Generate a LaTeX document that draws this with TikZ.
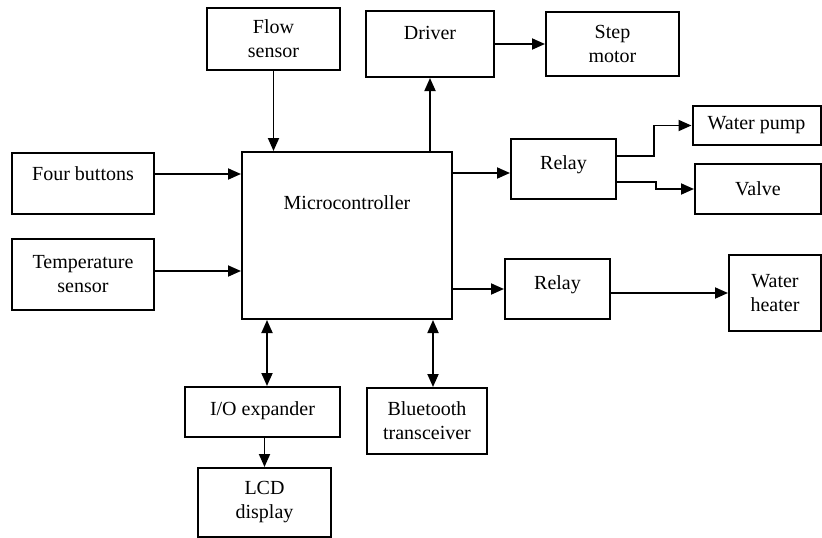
\documentclass[tikz,border=0pt]{standalone}
\usepackage{fontspec}
\setmainfont{Liberation Serif}
\usetikzlibrary{arrows.meta}

\begin{document}
\begin{tikzpicture}[x=1pt,y=-1pt,>={Triangle[length=13pt,width=11pt]},lift/.style={text height=14pt,text depth=#1}]
\tikzstyle{blk}=[draw,line width=2pt,align=center,inner sep=2pt,font=\fontsize{20}{24}\selectfont]
\tikzstyle{link}=[line width=1.8pt]
\useasboundingbox (0,0) rectangle (822,538);
% inputs and outputs round the controller
\node[blk,minimum width=133pt,minimum height=62pt] (flow) at (273.5,39) {Flow\\sensor};
\node[blk,lift=24pt,minimum width=128pt,minimum height=66pt] (driver) at (430,44) {Driver};
\node[blk,minimum width=133pt,minimum height=64pt] (step) at (612.5,44) {Step\\motor};
\node[blk,minimum width=128pt,minimum height=39pt] (pump) at (756.5,125.5) {Water pump};
\node[blk,minimum width=126pt,minimum height=50pt] (valve) at (758,189) {Valve};
\node[blk,lift=14pt,minimum width=105pt,minimum height=60pt] (relay1) at (563.5,169) {Relay};
\node[blk,lift=20pt,minimum width=142pt,minimum height=61pt] (four) at (83,183.5) {Four buttons};
\node[blk,minimum width=142pt,minimum height=71pt] (temp) at (83,274.5) {Temperature\\sensor};
\node[blk,lift=67pt,minimum width=210pt,minimum height=167pt] (mcu) at (347,235.5) {Microcontroller};
\node[blk,lift=14pt,minimum width=105pt,minimum height=60pt] (relay2) at (557.5,289) {Relay};
\node[blk,minimum width=92pt,minimum height=76pt] (heater) at (775,293) {Water\\heater};
\node[blk,lift=8pt,minimum width=155pt,minimum height=50pt] (io) at (262.5,412) {I/O expander};
\node[blk,minimum width=120pt,minimum height=66pt] (bt) at (427,421) {Bluetooth\\transceiver};
\node[blk,minimum width=133pt,minimum height=69pt] (lcd) at (264.5,502.5) {LCD\\display};
% free ends of the connectors
\coordinate (fbo) at ([yshift=9.5pt]four.east);
\coordinate (tso) at ([yshift=3.5pt]temp.east);
\coordinate (r1i) at ([yshift=-4pt]relay1.west);
\coordinate (r1a) at ([yshift=13pt]relay1.east);
\coordinate (r1b) at ([yshift=-13pt]relay1.east);
\coordinate (r2o) at ([yshift=-4pt]relay2.east);
\coordinate (ioi) at ([xshift=4.5pt]io.north);
\coordinate (bti) at ([xshift=6pt]bt.north);
\foreach \a/\b in {flow/flow|-mcu.north,driver.south|-mcu.north/driver,driver/step,fbo/fbo-|mcu.west,tso/tso-|mcu.west,r1i-|mcu.east/r1i,relay2.west-|mcu.east/relay2,r2o/heater.west,lcd.north|-io.south/lcd}{\draw[link,->] (\a) -- (\b);}
\draw[link,->] (r1a) -- ++(37,0) |- (pump.west);
\draw[link,->] (r1b) -- ++(39,0) |- (valve.west);
\draw[link,<->] (ioi|-mcu.south) -- (ioi);
\draw[link,<->] (bti|-mcu.south) -- (bti);
\end{tikzpicture}
\end{document}
